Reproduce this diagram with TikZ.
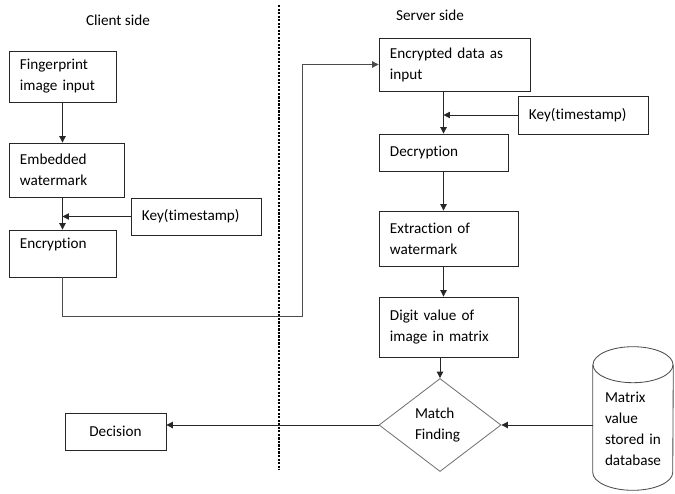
\documentclass[tikz,border=0pt]{standalone}
\usepackage{fontspec}
\setmainfont{Carlito}[Ligatures=NoCommon]
\usetikzlibrary{arrows.meta,shapes.geometric,calc}

\begin{document}
\begin{tikzpicture}[x=0.025cm, y=-0.025cm,
    font=\fontsize{10.8}{15}\selectfont,
    box/.style={draw=black!85, line width=0.6pt, inner xsep=0.275cm, inner ysep=0pt, align=left},
    cyl/.style={draw=black!70, line width=0.6pt},
    arr/.style={-{Triangle[length=4.5pt,width=4.5pt]}, line width=0.6pt, black!85}
]
\useasboundingbox (0,0) rectangle (675,493);

\node (client) at (118,20) {Client side};
\node (server) at (430,15) {Server side};

\node[box, minimum width=2.675cm, text width=2.125cm, minimum height=1.275cm] (finger) at (62.5,76.5) {Fingerprint\\image input};
\node[box, minimum width=2.875cm, text width=2.325cm, minimum height=1.35cm] (embed) at (66.5,170) {Embedded\\watermark};
\node[box, minimum width=3.25cm, text width=2.7cm, minimum height=0.925cm] (keyL) at (196,216.5) {Key(timestamp)};
\node[box, minimum width=2.675cm, text width=2.125cm, minimum height=1.175cm, text depth=0.5cm] (encr) at (62.5,253.5) {Encryption};
\node[box, minimum width=2.525cm, text width=1.975cm, minimum height=0.925cm, align=center] (decision) at (115.5,431.5) {Decision};

\node[box, minimum width=3.775cm, text width=3.225cm, minimum height=1.325cm] (encin) at (454.5,64.5) {Encrypted data as\\input};
\node[box, minimum width=3.25cm, text width=2.7cm, minimum height=0.95cm] (keyR) at (583,115) {Key(timestamp)};
\node[box, minimum width=3.225cm, text width=2.675cm, minimum height=0.925cm] (decr) at (443.5,152.5) {Decryption};
\node[box, minimum width=3.475cm, text width=2.925cm, minimum height=1.375cm] (extr) at (448.5,238.5) {Extraction of\\watermark};
\node[box, minimum width=3.475cm, text width=2.925cm, minimum height=1.5cm] (digit) at (448.5,327) {Digit value of\\image in matrix};
\node[diamond, draw=black!55, line width=0.6pt, inner sep=0pt, minimum width=3.05cm, minimum height=2.325cm, text width=1.25cm, align=left] (match) at (440,425) {Match\\Finding};

% database drum
\node[inner sep=0pt, minimum width=2cm, minimum height=3.575cm] (db) at (633,418.5) {};
\draw[cyl] ($(db.north west)+(0,18)$) -- ($(db.south west)+(0,-18)$)
    arc[start angle=180, end angle=360, x radius=1cm, y radius=0.45cm] -- ($(db.north east)+(0,18)$);
\draw[cyl] ($(db.north)+(0,18)$) ellipse [x radius=1cm, y radius=0.45cm];
\node[inner sep=0pt, text width=1.65cm, align=left] (dbtext) at (638,429) {Matrix\\value\\stored in\\database};

\coordinate (divtop) at (279,5);
\coordinate (divbot) at (279,470);
\draw[line width=1.8pt, dash pattern=on 1.5pt off 1pt] (divtop) -- (divbot);

\draw[arr] (finger.south) -- (finger.south |- embed.north);
\draw[arr] (encr.north |- embed.south) -- (encr.north);
\draw[arr] (keyL.west) -- (keyL.west -| encr.north);
\coordinate (bend) at (302,316);
\draw[arr, black!70] (encr.south) |- (bend) |- (encin.west);

\draw[arr] (encin.south -| decr.north) -- (decr.north);
\draw[arr] (keyR.west) -- (keyR.west -| decr.north);
\draw[arr] (decr.south) -- (decr.south |- extr.north);
\draw[arr] (decr.south |- extr.south) -- (decr.south |- digit.north);
\draw[arr] (digit.south -| match.north) -- (match.north);
\draw[arr] (match.east -| db.west) -- (match.east);
\draw[arr] (match.west) -- (match.west -| decision.east);
\end{tikzpicture}
\end{document}
